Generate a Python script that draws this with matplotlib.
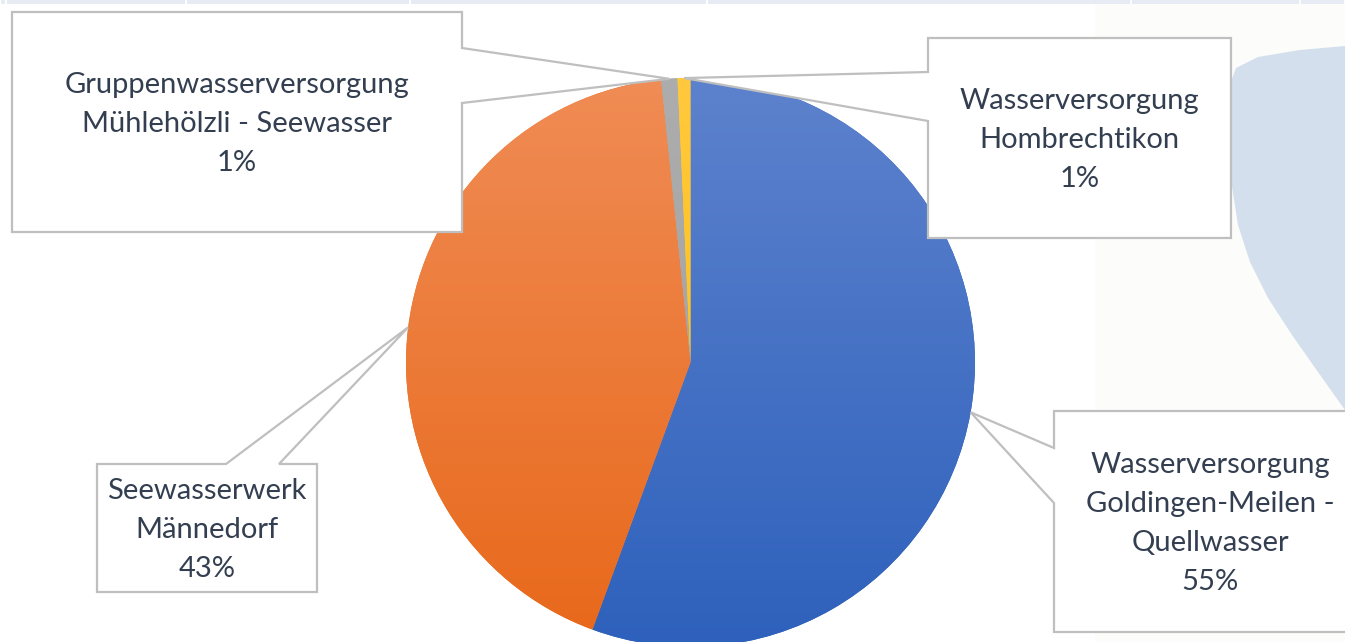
import numpy as np
import matplotlib.pyplot as plt
from matplotlib.colors import LinearSegmentedColormap
from matplotlib.patches import Polygon, Rectangle

# data (clockwise from 12 o'clock)
sources = [
    "Wasserversorgung\nGoldingen-Meilen -\nQuellwasser",
    "Seewasserwerk\nMännedorf",
    "Gruppenwasserversorgung\nMühlehölzli - Seewasser",
    "Wasserversorgung\nHombrechtikon",
]
shares = [55.6, 42.75, 0.92, 0.73]
share_labels = ["55%", "43%", "1%", "1%"]

top_colors = ["#5D82CD", "#F08C55", "#ADADAD", "#FFC83E"]
bottom_colors = ["#2E61BC", "#E8681A", "#9E9E9E", "#FFBE00"]

# callout boxes in pixel coords (y from top): left, top, right, bottom, side, notch start, notch end
boxes = [
    (1054, 411, 1366, 632, "left", 448, 503),
    (97, 464, 317, 592, "top", 226, 279),
    (12, 12, 462, 232, "right", 48, 103),
    (928, 38, 1231, 238, "left", 72, 121),
]

W, H = 1345, 642
CX, CY, R = 690.5, H - 362.5, 284.5
TEXT_COLOR = "#333F50"
LINE_COLOR = "#BFBFBF"

plt.rcParams["font.family"] = ["Lato", "DejaVu Sans"]


def callout_vertices(box, anchor):
    l, t, r, b, side, n1, n2 = box
    t, b = H - t, H - b
    if side == "right":
        pts = [(l, t), (r, t), (r, H - n1), anchor, (r, H - n2), (r, b), (l, b)]
    elif side == "left":
        pts = [(l, t), (r, t), (r, b), (l, b), (l, H - n2), anchor, (l, H - n1)]
    else:
        pts = [(l, t), (n1, t), anchor, (n2, t), (r, t), (r, b), (l, b)]
    return pts


def draw_background(ax):
    # faint slide background on the right
    ax.add_patch(Rectangle((1095, 0), W - 1095, H, color="#FCFCFB", lw=0, zorder=0))
    blob = [(1228, H - 90), (1236, H - 68), (1258, H - 57), (1300, H - 50), (1345, H - 46),
            (1345, H - 410), (1318, H - 372), (1292, H - 335), (1268, H - 298),
            (1250, H - 262), (1238, H - 225), (1231, H - 180), (1228, H - 130)]
    ax.add_patch(Polygon(blob, closed=True, color="#D3DFEC", lw=0, zorder=0.5))
    edges = [0, 6, 186, 410, 707, 1131, 1300, W]
    for a, b in zip(edges[:-1], edges[1:]):
        ax.add_patch(Rectangle((a + 1, H - 4), b - a - 2, 4, color="#E6EBF4", lw=0, zorder=0.6))


def main():
    fig = plt.figure(figsize=(W / 100, H / 100), dpi=100)
    ax = fig.add_axes([0, 0, 1, 1])
    draw_background(ax)

    wedges, _ = ax.pie(shares, center=(CX, CY), radius=R, startangle=90,
                       counterclock=False, wedgeprops=dict(lw=0))

    grad = np.linspace(0, 1, 256).reshape(-1, 1)
    for wedge, c_top, c_bot in zip(wedges, top_colors, bottom_colors):
        wedge.set_facecolor(c_bot)
        wedge.set_zorder(1)
        cmap = LinearSegmentedColormap.from_list("g", [c_bot, c_top])
        im = ax.imshow(grad, cmap=cmap, origin="lower", aspect="auto",
                       extent=[CX - R, CX + R, CY - R, CY + R], zorder=1.5)
        im.set_clip_path(wedge)

    for wedge, box, name, pct in zip(wedges, boxes, sources, share_labels):
        mid = np.deg2rad((wedge.theta1 + wedge.theta2) / 2)
        anchor = (CX + R * np.cos(mid), CY + R * np.sin(mid))
        poly = Polygon(callout_vertices(box, anchor), closed=True, facecolor="white",
                       edgecolor=LINE_COLOR, lw=1.6, zorder=3)
        ax.add_patch(poly)
        l, t, r, b = box[:4]
        ax.text((l + r) / 2, H - (t + b) / 2 - 2, name + "\n" + pct,
                ha="center", va="center", multialignment="center",
                fontsize=21, color=TEXT_COLOR, linespacing=1.62, zorder=4)

    ax.set_xlim(0, W)
    ax.set_ylim(0, H)
    ax.set_aspect("auto")
    ax.axis("off")
    fig.savefig("out.png", dpi=100, facecolor="white")


if __name__ == "__main__":
    main()
